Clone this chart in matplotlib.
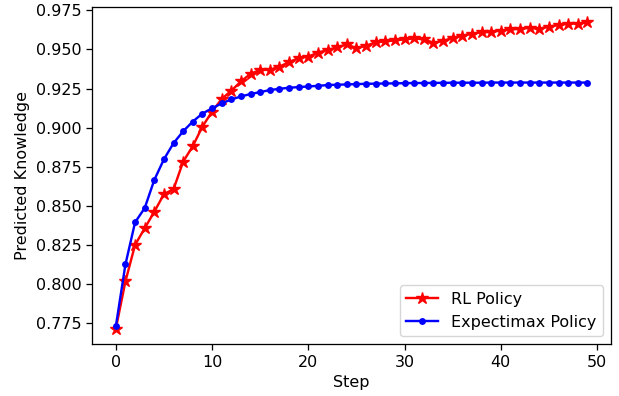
import matplotlib
matplotlib.use("Agg")
import matplotlib.pyplot as plt

# reference looks rendered ~1.15x the default sizes
S = 1.15
plt.rcParams.update({
    "font.size": 10 * S,
    "lines.linewidth": 1.5 * S,
    "axes.linewidth": 0.8 * S,
    "xtick.major.size": 3.5 * S,
    "ytick.major.size": 3.5 * S,
    "xtick.major.width": 0.8 * S,
    "ytick.major.width": 0.8 * S,
})

steps = list(range(50))

rl_policy = [
    0.7715, 0.8018, 0.8251, 0.8357, 0.8463, 0.8575, 0.8607, 0.8783, 0.8882, 0.9007,
    0.9102, 0.9183, 0.9236, 0.9295, 0.9344, 0.9369, 0.9369, 0.9390, 0.9418, 0.9445,
    0.9454, 0.9479, 0.9496, 0.9513, 0.9532, 0.9507, 0.9523, 0.9545, 0.9551, 0.9557,
    0.9564, 0.9570, 0.9564, 0.9542, 0.9553, 0.9574, 0.9587, 0.9600, 0.9608, 0.9612,
    0.9620, 0.9627, 0.9631, 0.9638, 0.9631, 0.9646, 0.9655, 0.9665, 0.9665, 0.9672,
]

expectimax_policy = [
    0.7730, 0.8126, 0.8395, 0.8486, 0.8666, 0.8798, 0.8901, 0.8977, 0.9039, 0.9090,
    0.9123, 0.9155, 0.9180, 0.9199, 0.9215, 0.9227, 0.9240, 0.9248, 0.9255, 0.9259,
    0.9263, 0.9267, 0.9272, 0.9274, 0.9276, 0.9278, 0.9280, 0.9281, 0.9282, 0.9283,
    0.9284, 0.9285, 0.9285, 0.9286, 0.9286, 0.9287, 0.9287, 0.9287, 0.9287, 0.9288,
    0.9288, 0.9288, 0.9288, 0.9288, 0.9288, 0.9288, 0.9288, 0.9288, 0.9288, 0.9288,
]

fig, ax = plt.subplots(figsize=(6.19, 3.96), dpi=100)
fig.subplots_adjust(left=0.149, right=0.987, top=0.982, bottom=0.131)

ax.plot(steps, rl_policy, color="red", marker="*", markersize=6 * S + 2, label="RL Policy")
ax.plot(steps, expectimax_policy, color="blue", marker=".", markersize=6 * S + 1,
        label="Expectimax Policy")

ax.set_xlabel("Step")
ax.set_ylabel("Predicted Knowledge")
ax.legend(loc="lower right")

fig.savefig("out.png", dpi=100)
